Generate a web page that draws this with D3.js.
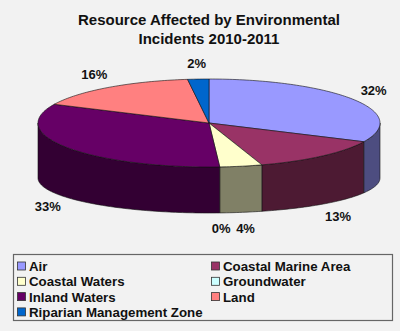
<!DOCTYPE html>
<html><head><meta charset="utf-8">
<script src="https://cdn.jsdelivr.net/npm/d3@7"></script>
<style>html,body{margin:0;padding:0;background:#f2f2f2;}svg{display:block;font-family:"Liberation Sans",Arial,sans-serif;}</style>
</head><body>
<svg id="c" width="400" height="331"></svg>
<script>
const categories = ["Air","Coastal Marine Area","Coastal Waters","Groundwater","Inland Waters","Land","Riparian Management Zone"];
const values = [32, 13, 4, 0, 33, 16, 2];
const colors = ["#9999FF","#993366","#FFFFCC","#CCFFFF","#660066","#FF8080","#0066CC"];
const titleLines = ["Resource Affected by Environmental","Incidents 2010-2011"];

(function(){
const svg = d3.select("#c");
svg.append("rect").attr("width",400).attr("height",331).attr("fill","#f2f2f2");

// title
svg.append("text").attr("x",209).attr("y",25).attr("text-anchor","middle")
  .attr("font-size",15).attr("font-weight","bold").attr("fill","#111")
  .selectAll("tspan").data(titleLines).join("tspan")
  .attr("x",209).attr("dy",(d,i)=>i?18.5:0).text(d=>d);

// 3D pie geometry
const cx=209, cy=123, rx=171, ry=44, cyB=178, ryB=35;
const topPt = a => [cx + rx*Math.sin(a), cy - ry*Math.cos(a)];
const botPt = a => [cx + rx*Math.sin(a), cyB - ryB*Math.cos(a)];
const pie = d3.pie().sort(null).value(d=>d.v).startAngle(0).endAngle(2*Math.PI);
const data = categories.map((c,i)=>({c, v:values[i], col:colors[i]}));
const arcs = pie(data);
const line = d3.line();
const samp = (a0,a1,f) => { const n=Math.max(2,Math.ceil(Math.abs(a1-a0)/0.02)); return d3.range(n+1).map(k=>f(a0+(a1-a0)*k/n)); };
const dark = c => { const r=d3.rgb(c); return d3.rgb(r.r*0.5,r.g*0.5,r.b*0.5).toString(); };

const g = svg.append("g");
// outer walls (front half only)
arcs.forEach(a=>{
  const a0=Math.max(a.startAngle,Math.PI/2), a1=Math.min(a.endAngle,3*Math.PI/2);
  if (a1<=a0) return;
  const pts = samp(a0,a1,topPt).concat(samp(a1,a0,botPt));
  g.append("path").attr("d",line(pts)+"Z").attr("fill",dark(a.data.col))
   .attr("stroke","#111").attr("stroke-width",0.6).attr("stroke-linejoin","round");
});
// top faces
arcs.forEach(a=>{
  if (a.endAngle-a.startAngle<=0) return;
  const pts = [[cx,cy]].concat(samp(a.startAngle,a.endAngle,topPt));
  g.append("path").attr("d",line(pts)+"Z").attr("fill",a.data.col)
   .attr("stroke","#111").attr("stroke-width",0.6).attr("stroke-linejoin","round");
});

// labels
arcs.forEach(a=>{
  const m=(a.startAngle+a.endAngle)/2, s=Math.sin(m), c=Math.cos(m);
  const p = c<0 ? botPt(m) : topPt(m);
  svg.append("text").attr("x",p[0]+s*24).attr("y",p[1]-c*16+4.5)
    .attr("text-anchor","middle").attr("font-size",13).attr("font-weight","bold").attr("fill","#111")
    .text(a.data.v+"%");
});

// legend
const lg = svg.append("g");
lg.append("rect").attr("x",13.5).attr("y",254.5).attr("width",379).attr("height",66)
  .attr("fill","#f2f2f2").attr("stroke","#666").attr("stroke-width",1.2);
data.forEach((d,i)=>{
  const col=i%2, row=Math.floor(i/2);
  const x = col? 211 : 17, y = 266 + row*15.3;
  lg.append("rect").attr("x",x+0.5).attr("y",y-4).attr("width",8).attr("height",8)
    .attr("fill",d.col).attr("stroke","#333").attr("stroke-width",0.8);
  lg.append("text").attr("x",x+12).attr("y",y+5).attr("font-size",13.3).attr("font-weight","bold")
    .attr("fill","#111").text(d.c);
});
})();
</script>
</body></html>
